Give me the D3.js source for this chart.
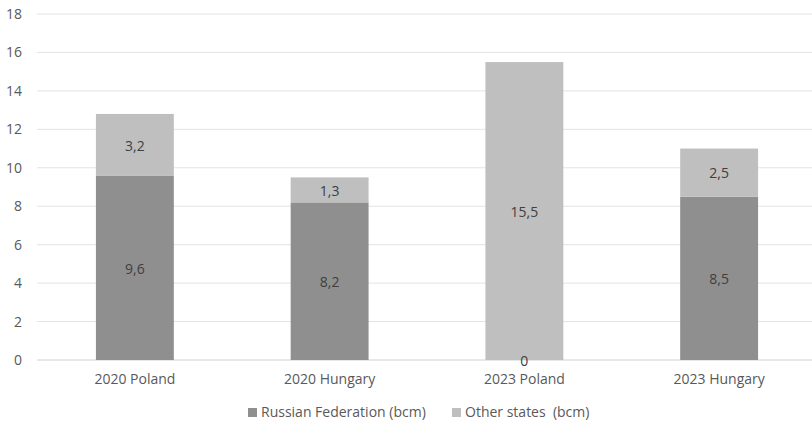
<!DOCTYPE html>
<html>
<head>
<meta charset="utf-8">
<script src="https://cdn.jsdelivr.net/npm/d3@7"></script>
<style>
  body { margin: 0; background: #fff; }
  text { font-family: "Open Sans", "Liberation Sans", sans-serif; }
</style>
</head>
<body>
<div id="chart-area"></div>
<script>
var categories = ["2020 Poland", "2020 Hungary", "2023 Poland", "2023 Hungary"];
var russian = [9.6, 8.2, 0, 8.5];
var other = [3.2, 1.3, 15.5, 2.5];
var seriesNames = ["Russian Federation (bcm)", "Other states  (bcm)"];
var yTicks = [0, 2, 4, 6, 8, 10, 12, 14, 16, 18];

var colors = ["#8f8f8f", "#bfbfbf"];

var svg = d3.select("#chart-area")
  .append("svg")
  .attr("width", 812)
  .attr("height", 429);

var margin = { top: 14, right: 0, bottom: 69, left: 37 };
var width = 812 - margin.left - margin.right;
var height = 429 - margin.top - margin.bottom;

var g = svg.append("g")
  .attr("transform", "translate(" + margin.left + "," + margin.top + ")");

var x = d3.scaleBand()
  .domain(categories)
  .range([0.5, 779.5])
  .paddingInner(0.6)
  .paddingOuter(0.3);

var y = d3.scaleLinear()
  .domain([0, 18])
  .range([height, 0]);

// gridlines
g.selectAll(".grid")
  .data(yTicks)
  .enter()
  .append("line")
  .attr("x1", 0)
  .attr("x2", width)
  .attr("y1", d => y(d))
  .attr("y2", d => y(d))
  .attr("stroke", d => d === 0 ? "#d0d0d0" : "#e3e3e3")
  .attr("stroke-width", 1);

var table = categories.map((c, i) => ({ cat: c, r: russian[i], o: other[i] }));
var stack = d3.stack().keys(["r", "o"])(table);

var layers = g.selectAll(".layer")
  .data(stack)
  .enter()
  .append("g")
  .attr("fill", (d, i) => colors[i]);

layers.selectAll("rect")
  .data(d => d)
  .enter()
  .append("rect")
  .attr("x", d => x(d.data.cat))
  .attr("y", d => y(d[1]))
  .attr("width", x.bandwidth())
  .attr("height", d => y(d[0]) - y(d[1]));

// labels drawn after all bars so the zero label stays visible
var labelData = stack.flatMap(s => s.map(d => ({ cat: d.data.cat, y0: d[0], y1: d[1], v: d.data[s.key] })));
g.selectAll(".label")
  .data(labelData)
  .enter()
  .append("text")
  .attr("class", "label")
  .attr("x", d => x(d.cat) + x.bandwidth() / 2)
  .attr("y", d => (y(d.y0) + y(d.y1)) / 2 + 1)
  .attr("dy", "0.35em")
  .attr("text-anchor", "middle")
  .attr("font-size", "14px")
  .attr("fill", "#404040")
  .text(d => String(d.v).replace(".", ","));

var yAxisCall = d3.axisLeft(y).tickValues(yTicks).tickSize(0).tickPadding(15);
g.append("g")
  .attr("class", "y axis")
  .call(yAxisCall)
  .call(a => a.select(".domain").remove())
  .selectAll("text")
    .attr("font-size", "14px")
    .attr("fill", "#595959");

var xAxisCall = d3.axisBottom(x).tickSize(0).tickPadding(14);
g.append("g")
  .attr("class", "x axis")
  .attr("transform", "translate(0," + height + ")")
  .call(xAxisCall)
  .call(a => a.select(".domain").remove())
  .selectAll("text")
    .attr("font-size", "14px")
    .attr("fill", "#595959");

// legend
var legendX = [248, 452];
var legend = svg.selectAll(".legend")
  .data(seriesNames)
  .enter()
  .append("g")
  .attr("transform", (d, i) => "translate(" + legendX[i] + ",412)");

legend.append("rect")
  .attr("x", 0)
  .attr("y", -4)
  .attr("width", 9)
  .attr("height", 9)
  .attr("fill", (d, i) => colors[i]);

legend.append("text")
  .attr("x", 13)
  .attr("dy", "0.35em")
  .attr("font-size", "14px")
  .attr("fill", "#595959")
  .style("white-space", "pre")
  .text(d => d);
</script>
</body>
</html>
